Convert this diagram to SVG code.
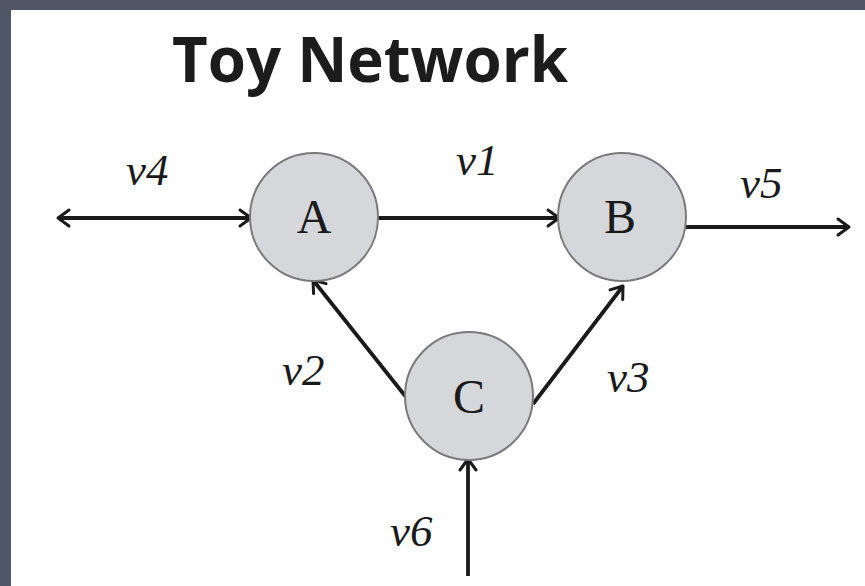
<svg xmlns="http://www.w3.org/2000/svg" width="865" height="586" viewBox="0 0 865 586">
  <defs>
    <marker id="arrow" viewBox="0 0 24 24" refX="21" refY="12" markerWidth="24" markerHeight="24" markerUnits="userSpaceOnUse" orient="auto-start-reverse">
      <path d="M10 4 L21 12 L10 20" fill="none" stroke="#1a1a1a" stroke-width="3" stroke-linecap="round" stroke-linejoin="round"/>
    </marker>
  </defs>
  <style>
    .frame { fill: #4f5666; }
    .panel { fill: #ffffff; }
    .title { font-family: "Open Sans", "Liberation Sans", sans-serif; font-weight: bold; font-size: 62px; fill: #1c1c1c; }
    .node circle { fill: #d6d7db; stroke: #7a7a7a; stroke-width: 2; }
    .node text { font-family: "Liberation Serif", serif; font-size: 48px; fill: #1a1a1a; text-anchor: middle; }
    .edge { stroke: #1a1a1a; stroke-width: 3.8; fill: none; }
    .label { font-family: "Liberation Serif", serif; font-style: italic; font-size: 45px; fill: #1a1a1a; }
  </style>

  <!-- slide frame and white panel -->
  <rect class="frame" x="0" y="0" width="865" height="586"/>
  <rect class="panel" x="11" y="10" width="854" height="576"/>

  <text class="title" x="172" y="82" textLength="396" lengthAdjust="spacingAndGlyphs">Toy Network</text>

  <!-- connectors -->
  <g id="connectors">
    <line class="edge" x1="58" y1="218" x2="251" y2="218" marker-start="url(#arrow)" marker-end="url(#arrow)"/>
    <line class="edge" x1="378" y1="218" x2="559" y2="218" marker-end="url(#arrow)"/>
    <line class="edge" x1="668" y1="227" x2="849" y2="227" marker-end="url(#arrow)"/>
    <line class="edge" x1="406" y1="397" x2="313" y2="280" marker-end="url(#arrow)"/>
    <line class="edge" x1="533" y1="404" x2="623" y2="286" marker-end="url(#arrow)"/>
    <line class="edge" x1="468" y1="576" x2="468" y2="459" marker-end="url(#arrow)"/>
  </g>

  <!-- nodes -->
  <g id="node-A" class="node">
    <circle cx="314" cy="217" r="64"/>
    <text x="314" y="233">A</text>
  </g>
  <g id="node-B" class="node">
    <circle cx="622" cy="217" r="64"/>
    <text x="620" y="233">B</text>
  </g>
  <g id="node-C" class="node">
    <circle cx="469" cy="396" r="64"/>
    <text x="469" y="413">C</text>
  </g>

  <!-- flux labels -->
  <g id="labels">
    <text class="label" x="126" y="185">v4</text>
    <text class="label" x="456" y="175">v1</text>
    <text class="label" x="740" y="198">v5</text>
    <text class="label" x="282" y="385">v2</text>
    <text class="label" x="607" y="392">v3</text>
    <text class="label" x="390" y="546">v6</text>
  </g>
</svg>
